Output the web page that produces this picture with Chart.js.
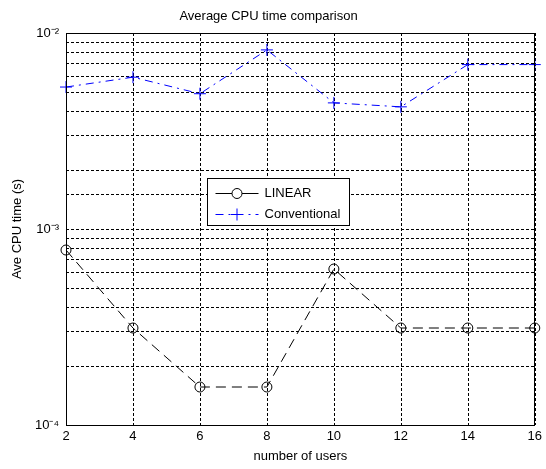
<!DOCTYPE html>
<html><head><meta charset="utf-8">
<script src="https://cdn.jsdelivr.net/npm/chart.js@4"></script>
<style>html,body{margin:0;padding:0;background:#fff}</style>
</head><body>
<canvas id="c" width="546" height="469" style="width:546px;height:469px;display:block"></canvas>
<script>
const users = [2, 4, 6, 8, 10, 12, 14, 16];
const linearTime = [7.8125e-4, 3.125e-4, 1.5625e-4, 1.5625e-4, 6.25e-4, 3.125e-4, 3.125e-4, 3.125e-4];
const conventionalTime = [5.3e-3, 5.95e-3, 4.9e-3, 8.2e-3, 4.4e-3, 4.2e-3, 6.9e-3, 6.9e-3];
const seriesNames = ['LINEAR', 'Conventional'];
const yDecadeLabels = {'-4': '10⁻⁴', '-3': '10⁻³', '-2': '10⁻²'};
const titleText = 'Average CPU time comparison';
const xTitle = 'number of users';
const yTitle = 'Ave CPU time (s)';

const FONT = 'Liberation Sans, Arial, Helvetica, sans-serif';

const dottedGrid = {
  id: 'dottedGrid',
  beforeDatasetsDraw(chart) {
    const {ctx, chartArea: a, scales} = chart;
    ctx.save();
    ctx.strokeStyle = '#000';
    ctx.lineWidth = 1;
    ctx.setLineDash([3, 2]);
    scales.x.ticks.forEach(t => {
      const px = Math.round(scales.x.getPixelForValue(t.value)) + 0.5;
      ctx.beginPath(); ctx.moveTo(px, a.top); ctx.lineTo(px, a.bottom); ctx.stroke();
    });
    scales.y.ticks.forEach(t => {
      const py = Math.round(scales.y.getPixelForValue(t.value)) + 0.5;
      ctx.beginPath(); ctx.moveTo(a.left, py); ctx.lineTo(a.right, py); ctx.stroke();
    });
    ctx.restore();
  }
};

const frameAndLegend = {
  id: 'frameAndLegend',
  afterDatasetsDraw(chart) {
    const {ctx, chartArea: a} = chart;
    ctx.save();
    ctx.strokeStyle = '#000';
    ctx.lineWidth = 1;
    ctx.setLineDash([]);
    ctx.strokeRect(Math.round(a.left) + 0.5, Math.round(a.top) + 0.5,
                   Math.round(a.right - a.left) - 1, Math.round(a.bottom - a.top));
    // legend
    const bx = Math.round(a.left) + 141 + 0.5, by = Math.round(a.top) + 145 + 0.5;
    const bw = 142, bh = 47;
    ctx.fillStyle = '#fff';
    ctx.fillRect(bx, by, bw, bh);
    ctx.strokeStyle = '#000';
    ctx.strokeRect(bx, by, bw, bh);
    ctx.font = '13px ' + FONT;
    ctx.textBaseline = 'middle';
    chart.data.datasets.forEach((ds, i) => {
      const y = Math.round(by + 14 + i * 21) + 0.5;
      const x0 = bx + 8, x1 = bx + 51, xm = (x0 + x1) / 2;
      ctx.strokeStyle = ds.borderColor;
      ctx.lineWidth = 1;
      ctx.setLineDash(ds.pointStyle === 'circle' ? [] : [8, 5, 2, 5]);
      ctx.beginPath(); ctx.moveTo(x0, y); ctx.lineTo(x1, y); ctx.stroke();
      ctx.setLineDash([]);
      if (ds.pointStyle === 'circle') {
        ctx.fillStyle = '#fff';
        ctx.beginPath(); ctx.arc(xm, y, 5, 0, Math.PI * 2); ctx.fill(); ctx.stroke();
      } else {
        ctx.beginPath();
        ctx.moveTo(xm - 6, y); ctx.lineTo(xm + 6, y);
        ctx.moveTo(xm, y - 6); ctx.lineTo(xm, y + 6);
        ctx.stroke();
      }
      ctx.fillStyle = '#000';
      ctx.textAlign = 'left';
      ctx.fillText(ds.label, x1 + 6, y);
    });
    ctx.restore();
  }
};

new Chart(document.getElementById('c'), {
  type: 'line',
  data: {
    labels: users,
    datasets: [
      {
        label: seriesNames[0],
        data: users.map((u, i) => ({x: u, y: linearTime[i]})),
        borderColor: '#000',
        borderWidth: 1,
        borderDash: [10, 6],
        pointStyle: 'circle',
        pointRadius: 5,
        pointBorderWidth: 1,
        pointBorderColor: '#000',
        pointBackgroundColor: 'rgba(0,0,0,0)',
        fill: false,
        tension: 0,
        clip: false
      },
      {
        label: seriesNames[1],
        data: users.map((u, i) => ({x: u, y: conventionalTime[i]})),
        borderColor: '#0000ff',
        borderWidth: 1,
        borderDash: [8, 5, 2, 5],
        pointStyle: 'cross',
        pointRadius: 6,
        pointBorderWidth: 1,
        pointBorderColor: '#0000ff',
        pointBackgroundColor: '#0000ff',
        fill: false,
        tension: 0,
        clip: false
      }
    ]
  },
  options: {
    responsive: false,
    animation: false,
    devicePixelRatio: 1,
    layout: {padding: {left: 0, right: 9, top: 0, bottom: 0}},
    plugins: {
      legend: {display: false},
      tooltip: {enabled: false},
      title: {
        display: true,
        text: titleText,
        color: '#000',
        font: {family: FONT, size: 13, weight: 'normal'},
        padding: {top: 9, bottom: 8.4}
      }
    },
    scales: {
      x: {
        type: 'linear',
        min: 2, max: 16,
        afterFit: s => { s.height = 44; },
        ticks: {
          stepSize: 2,
          color: '#000',
          padding: 4,
          font: {family: FONT, size: 13},
          callback: v => String(v)
        },
        grid: {display: false, drawTicks: false},
        border: {display: false},
        title: {
          display: true, text: xTitle, color: '#000',
          font: {family: FONT, size: 13},
          padding: {top: 0, bottom: 5}
        }
      },
      y: {
        type: 'logarithmic',
        min: 1e-4, max: 1e-2,
        afterFit: s => { s.width = 66; },
        ticks: {
          color: '#000',
          padding: 7,
          autoSkip: false,
          font: {family: FONT, size: 13},
          callback: v => {
            const e = Math.log10(v);
            const r = Math.round(e);
            return Math.abs(e - r) < 1e-9 ? (yDecadeLabels[String(r)] || '') : '';
          }
        },
        grid: {display: false, drawTicks: false},
        border: {display: false},
        title: {
          display: true, text: yTitle, color: '#000',
          font: {family: FONT, size: 13},
          padding: {top: 10, bottom: 0}
        }
      }
    }
  },
  plugins: [dottedGrid, frameAndLegend]
});
</script>
</body></html>
